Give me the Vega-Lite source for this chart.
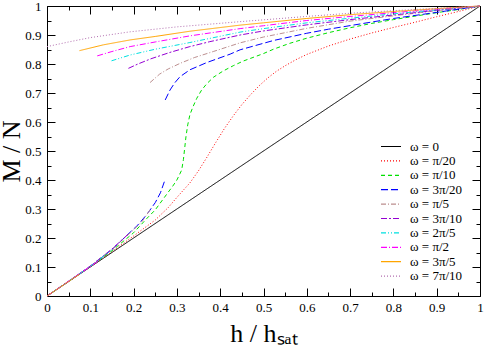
{
"$schema": "https://vega.github.io/schema/vega-lite/v6.json",
"width": 433, "height": 290,
"autosize": {"type": "none"},
"padding": {"left": 47, "top": 6, "right": 5, "bottom": 50},
"background": "white",
"config": {"view": {"stroke": null}, "font": "Liberation Serif",
  "axis": {"grid": false, "domainColor": "black", "tickColor": "black", "labelColor": "black", "titleColor": "black", "labelFont": "Liberation Serif", "titleFont": "Liberation Serif", "labelFontSize": 13, "titleFontSize": 26, "titleFontWeight": "normal", "domainWidth": 1, "tickWidth": 1, "labelOverlap": false, "labelFlush": false, "labelBound": false},
  "legend": {"labelFont": "Liberation Serif"}},
"data": {"values": [
{"w":"ω = 0","s":"a","h":0,"m":0},{"w":"ω = 0","s":"a","h":1,"m":1},
{"w":"ω = π/20","s":"a","h":0,"m":0},{"w":"ω = π/20","s":"a","h":0.05,"m":0.05},{"w":"ω = π/20","s":"a","h":0.1,"m":0.101},{"w":"ω = π/20","s":"a","h":0.15,"m":0.153},{"w":"ω = π/20","s":"a","h":0.2,"m":0.207},{"w":"ω = π/20","s":"a","h":0.25,"m":0.262},{"w":"ω = π/20","s":"a","h":0.28,"m":0.305},{"w":"ω = π/20","s":"a","h":0.3,"m":0.34},{"w":"ω = π/20","s":"a","h":0.33,"m":0.39},{"w":"ω = π/20","s":"a","h":0.35,"m":0.432},{"w":"ω = π/20","s":"a","h":0.37,"m":0.48},{"w":"ω = π/20","s":"a","h":0.39,"m":0.53},{"w":"ω = π/20","s":"a","h":0.41,"m":0.578},{"w":"ω = π/20","s":"a","h":0.43,"m":0.621},{"w":"ω = π/20","s":"a","h":0.45,"m":0.66},{"w":"ω = π/20","s":"a","h":0.47,"m":0.694},{"w":"ω = π/20","s":"a","h":0.49,"m":0.725},{"w":"ω = π/20","s":"a","h":0.51,"m":0.752},{"w":"ω = π/20","s":"a","h":0.53,"m":0.775},{"w":"ω = π/20","s":"a","h":0.55,"m":0.794},{"w":"ω = π/20","s":"a","h":0.575,"m":0.815},{"w":"ω = π/20","s":"a","h":0.6,"m":0.833},{"w":"ω = π/20","s":"a","h":0.65,"m":0.862},{"w":"ω = π/20","s":"a","h":0.7,"m":0.886},{"w":"ω = π/20","s":"a","h":0.75,"m":0.907},{"w":"ω = π/20","s":"a","h":0.8,"m":0.926},{"w":"ω = π/20","s":"a","h":0.85,"m":0.944},{"w":"ω = π/20","s":"a","h":0.9,"m":0.963},{"w":"ω = π/20","s":"a","h":0.95,"m":0.981},{"w":"ω = π/20","s":"a","h":1,"m":1},
{"w":"ω = π/10","s":"a","h":0,"m":0},{"w":"ω = π/10","s":"a","h":0.05,"m":0.05},{"w":"ω = π/10","s":"a","h":0.1,"m":0.102},{"w":"ω = π/10","s":"a","h":0.15,"m":0.156},{"w":"ω = π/10","s":"a","h":0.2,"m":0.218},{"w":"ω = π/10","s":"a","h":0.231,"m":0.268},{"w":"ω = π/10","s":"a","h":0.25,"m":0.297},{"w":"ω = π/10","s":"a","h":0.277,"m":0.352},{"w":"ω = π/10","s":"a","h":0.29,"m":0.378},{"w":"ω = π/10","s":"a","h":0.3,"m":0.4},{"w":"ω = π/10","s":"a","h":0.311,"m":0.434},{"w":"ω = π/10","s":"a","h":0.315,"m":0.47},{"w":"ω = π/10","s":"a","h":0.318,"m":0.51},{"w":"ω = π/10","s":"a","h":0.321,"m":0.55},{"w":"ω = π/10","s":"a","h":0.325,"m":0.59},{"w":"ω = π/10","s":"a","h":0.33,"m":0.625},{"w":"ω = π/10","s":"a","h":0.337,"m":0.652},{"w":"ω = π/10","s":"a","h":0.346,"m":0.682},{"w":"ω = π/10","s":"a","h":0.357,"m":0.71},{"w":"ω = π/10","s":"a","h":0.369,"m":0.732},{"w":"ω = π/10","s":"a","h":0.385,"m":0.755},{"w":"ω = π/10","s":"a","h":0.407,"m":0.776},{"w":"ω = π/10","s":"a","h":0.43,"m":0.794},{"w":"ω = π/10","s":"a","h":0.453,"m":0.81},{"w":"ω = π/10","s":"a","h":0.5,"m":0.836},{"w":"ω = π/10","s":"a","h":0.523,"m":0.851},{"w":"ω = π/10","s":"a","h":0.56,"m":0.871},{"w":"ω = π/10","s":"a","h":0.6,"m":0.889},{"w":"ω = π/10","s":"a","h":0.65,"m":0.908},{"w":"ω = π/10","s":"a","h":0.7,"m":0.925},{"w":"ω = π/10","s":"a","h":0.75,"m":0.94},{"w":"ω = π/10","s":"a","h":0.8,"m":0.953},{"w":"ω = π/10","s":"a","h":0.85,"m":0.965},{"w":"ω = π/10","s":"a","h":0.9,"m":0.977},{"w":"ω = π/10","s":"a","h":0.95,"m":0.988},{"w":"ω = π/10","s":"a","h":1,"m":1},
{"w":"ω = 3π/20","s":"a","h":0,"m":0},{"w":"ω = 3π/20","s":"a","h":0.05,"m":0.05},{"w":"ω = 3π/20","s":"a","h":0.1,"m":0.103},{"w":"ω = 3π/20","s":"a","h":0.15,"m":0.16},{"w":"ω = 3π/20","s":"a","h":0.185,"m":0.21},{"w":"ω = 3π/20","s":"a","h":0.21,"m":0.245},{"w":"ω = 3π/20","s":"a","h":0.231,"m":0.282},{"w":"ω = 3π/20","s":"a","h":0.25,"m":0.322},{"w":"ω = 3π/20","s":"a","h":0.262,"m":0.356},{"w":"ω = 3π/20","s":"a","h":0.271,"m":0.394},
{"w":"ω = 3π/20","s":"b","h":0.273,"m":0.676},{"w":"ω = 3π/20","s":"b","h":0.284,"m":0.71},{"w":"ω = 3π/20","s":"b","h":0.295,"m":0.735},{"w":"ω = 3π/20","s":"b","h":0.307,"m":0.756},{"w":"ω = 3π/20","s":"b","h":0.33,"m":0.78},{"w":"ω = 3π/20","s":"b","h":0.369,"m":0.805},{"w":"ω = 3π/20","s":"b","h":0.423,"m":0.834},{"w":"ω = 3π/20","s":"b","h":0.446,"m":0.849},{"w":"ω = 3π/20","s":"b","h":0.523,"m":0.881},{"w":"ω = 3π/20","s":"b","h":0.6,"m":0.906},{"w":"ω = 3π/20","s":"b","h":0.65,"m":0.92},{"w":"ω = 3π/20","s":"b","h":0.723,"m":0.938},{"w":"ω = 3π/20","s":"b","h":0.8,"m":0.957},{"w":"ω = 3π/20","s":"b","h":0.9,"m":0.978},{"w":"ω = 3π/20","s":"b","h":1,"m":1},
{"w":"ω = π/5","s":"a","h":0,"m":0},{"w":"ω = π/5","s":"a","h":0.1,"m":0.103},{"w":"ω = π/5","s":"a","h":0.15,"m":0.161},{"w":"ω = π/5","s":"a","h":0.2,"m":0.228},{"w":"ω = π/5","s":"a","h":0.22,"m":0.258},{"w":"ω = π/5","s":"a","h":0.238,"m":0.297},
{"w":"ω = π/5","s":"b","h":0.238,"m":0.736},{"w":"ω = π/5","s":"b","h":0.26,"m":0.765},{"w":"ω = π/5","s":"b","h":0.28,"m":0.783},{"w":"ω = π/5","s":"b","h":0.307,"m":0.802},{"w":"ω = π/5","s":"b","h":0.34,"m":0.822},{"w":"ω = π/5","s":"b","h":0.384,"m":0.843},{"w":"ω = π/5","s":"b","h":0.446,"m":0.873},{"w":"ω = π/5","s":"b","h":0.5,"m":0.893},{"w":"ω = π/5","s":"b","h":0.6,"m":0.923},{"w":"ω = π/5","s":"b","h":0.7,"m":0.948},{"w":"ω = π/5","s":"b","h":0.8,"m":0.966},{"w":"ω = π/5","s":"b","h":0.9,"m":0.984},{"w":"ω = π/5","s":"b","h":1,"m":1},
{"w":"ω = 3π/10","s":"a","h":0,"m":0},{"w":"ω = 3π/10","s":"a","h":0.1,"m":0.103},{"w":"ω = 3π/10","s":"a","h":0.15,"m":0.162},{"w":"ω = 3π/10","s":"a","h":0.188,"m":0.214},
{"w":"ω = 3π/10","s":"b","h":0.188,"m":0.785},{"w":"ω = 3π/10","s":"b","h":0.21,"m":0.8},{"w":"ω = 3π/10","s":"b","h":0.24,"m":0.818},{"w":"ω = 3π/10","s":"b","h":0.284,"m":0.84},{"w":"ω = 3π/10","s":"b","h":0.33,"m":0.86},{"w":"ω = 3π/10","s":"b","h":0.376,"m":0.877},{"w":"ω = 3π/10","s":"b","h":0.446,"m":0.9},{"w":"ω = 3π/10","s":"b","h":0.5,"m":0.914},{"w":"ω = 3π/10","s":"b","h":0.6,"m":0.935},{"w":"ω = 3π/10","s":"b","h":0.7,"m":0.953},{"w":"ω = 3π/10","s":"b","h":0.8,"m":0.969},{"w":"ω = 3π/10","s":"b","h":0.9,"m":0.985},{"w":"ω = 3π/10","s":"b","h":1,"m":1},
{"w":"ω = 2π/5","s":"a","h":0,"m":0},{"w":"ω = 2π/5","s":"a","h":0.1,"m":0.102},{"w":"ω = 2π/5","s":"a","h":0.149,"m":0.158},
{"w":"ω = 2π/5","s":"b","h":0.149,"m":0.811},{"w":"ω = 2π/5","s":"b","h":0.192,"m":0.831},{"w":"ω = 2π/5","s":"b","h":0.25,"m":0.851},{"w":"ω = 2π/5","s":"b","h":0.33,"m":0.874},{"w":"ω = 2π/5","s":"b","h":0.446,"m":0.91},{"w":"ω = 2π/5","s":"b","h":0.5,"m":0.922},{"w":"ω = 2π/5","s":"b","h":0.6,"m":0.942},{"w":"ω = 2π/5","s":"b","h":0.7,"m":0.958},{"w":"ω = 2π/5","s":"b","h":0.8,"m":0.973},{"w":"ω = 2π/5","s":"b","h":0.9,"m":0.987},{"w":"ω = 2π/5","s":"b","h":1,"m":1},
{"w":"ω = π/2","s":"a","h":0,"m":0},{"w":"ω = π/2","s":"a","h":0.116,"m":0.118},
{"w":"ω = π/2","s":"b","h":0.116,"m":0.828},{"w":"ω = π/2","s":"b","h":0.15,"m":0.843},{"w":"ω = π/2","s":"b","h":0.192,"m":0.86},{"w":"ω = π/2","s":"b","h":0.25,"m":0.876},{"w":"ω = π/2","s":"b","h":0.33,"m":0.897},{"w":"ω = π/2","s":"b","h":0.446,"m":0.922},{"w":"ω = π/2","s":"b","h":0.5,"m":0.932},{"w":"ω = π/2","s":"b","h":0.6,"m":0.95},{"w":"ω = π/2","s":"b","h":0.7,"m":0.964},{"w":"ω = π/2","s":"b","h":0.8,"m":0.977},{"w":"ω = π/2","s":"b","h":0.9,"m":0.989},{"w":"ω = π/2","s":"b","h":1,"m":1},
{"w":"ω = 3π/5","s":"a","h":0,"m":0},{"w":"ω = 3π/5","s":"a","h":0.075,"m":0.075},
{"w":"ω = 3π/5","s":"b","h":0.075,"m":0.846},{"w":"ω = 3π/5","s":"b","h":0.13,"m":0.866},{"w":"ω = 3π/5","s":"b","h":0.192,"m":0.883},{"w":"ω = 3π/5","s":"b","h":0.25,"m":0.895},{"w":"ω = 3π/5","s":"b","h":0.33,"m":0.913},{"w":"ω = 3π/5","s":"b","h":0.446,"m":0.934},{"w":"ω = 3π/5","s":"b","h":0.5,"m":0.942},{"w":"ω = 3π/5","s":"b","h":0.6,"m":0.957},{"w":"ω = 3π/5","s":"b","h":0.7,"m":0.97},{"w":"ω = 3π/5","s":"b","h":0.8,"m":0.981},{"w":"ω = 3π/5","s":"b","h":0.9,"m":0.991},{"w":"ω = 3π/5","s":"b","h":1,"m":1},
{"w":"ω = 7π/10","s":"b","h":0,"m":0.86},{"w":"ω = 7π/10","s":"b","h":0.05,"m":0.876},{"w":"ω = 7π/10","s":"b","h":0.1,"m":0.891},{"w":"ω = 7π/10","s":"b","h":0.192,"m":0.911},{"w":"ω = 7π/10","s":"b","h":0.3,"m":0.928},{"w":"ω = 7π/10","s":"b","h":0.446,"m":0.946},{"w":"ω = 7π/10","s":"b","h":0.6,"m":0.964},{"w":"ω = 7π/10","s":"b","h":0.7,"m":0.975},{"w":"ω = 7π/10","s":"b","h":0.8,"m":0.984},{"w":"ω = 7π/10","s":"b","h":0.9,"m":0.992},{"w":"ω = 7π/10","s":"b","h":1,"m":1}
]},
"layer": [
{"mark": {"type": "line", "strokeWidth": 1},
 "encoding": {
  "x": {"field": "h", "type": "quantitative", "scale": {"domain": [0, 1], "nice": false},
    "axis": {"orient": "bottom", "values": [0,0.05,0.1,0.15,0.2,0.25,0.3,0.35,0.4,0.45,0.5,0.55,0.6,0.65,0.7,0.75,0.8,0.85,0.9,0.95,1],
      "labelExpr": "round(datum.value*20)%2==0 ? format(datum.value,'~g') : ''",
      "tickSize": {"condition": {"test": "round(datum.value*20)%2==1", "value": -4}, "value": -8},
      "labelFont": "Liberation Serif", "labelPadding": 13, "title": "h / hₛₐₜ", "titlePadding": 2}},
  "y": {"field": "m", "type": "quantitative", "scale": {"domain": [0, 1], "nice": false},
    "axis": {"orient": "left", "values": [0,0.05,0.1,0.15,0.2,0.25,0.3,0.35,0.4,0.45,0.5,0.55,0.6,0.65,0.7,0.75,0.8,0.85,0.9,0.95,1],
      "labelExpr": "round(datum.value*20)%2==0 ? format(datum.value,'~g') : ''",
      "tickSize": {"condition": {"test": "round(datum.value*20)%2==1", "value": -4}, "value": -8},
      "labelFont": "Liberation Serif", "labelPadding": 14, "title": "M / N", "titlePadding": 0}},
  "color": {"field": "w", "type": "nominal",
    "scale": {"domain": ["ω = 0","ω = π/20","ω = π/10","ω = 3π/20","ω = π/5","ω = 3π/10","ω = 2π/5","ω = π/2","ω = 3π/5","ω = 7π/10"],
      "range": ["#000000","#ff0000","#00e000","#0000ff","#bc8f8f","#9400d3","#00e0e0","#ff00ff","#ffa500","#b36fb0"]},
    "legend": {"title": null, "orient": "none", "legendX": 333, "legendY": 134, "padding": 0, "labelFontSize": 13, "labelFont": "Liberation Serif", "labelColor": "black", "symbolType": "stroke", "symbolSize": 400, "symbolStrokeWidth": 1.2, "labelOffset": 8, "clipHeight": 13, "rowPadding": 0.4}},
  "strokeDash": {"field": "w", "type": "nominal",
    "scale": {"domain": ["ω = 0","ω = π/20","ω = π/10","ω = 3π/20","ω = π/5","ω = 3π/10","ω = 2π/5","ω = π/2","ω = 3π/5","ω = 7π/10"],
      "range": [[1,0],[1,2],[4,3],[7,3],[5,2,1,2],[6,2,2,2],[5,2,1,2,1,2],[6,2,1,2],[1,0],[1,2]]},
    "legend": {"title": null, "orient": "none", "legendX": 333, "legendY": 134, "padding": 0, "labelFontSize": 13, "labelFont": "Liberation Serif", "labelColor": "black", "symbolType": "stroke", "symbolSize": 400, "symbolStrokeWidth": 1.2, "labelOffset": 8, "clipHeight": 13, "rowPadding": 0.4}},
  "detail": {"field": "s", "type": "nominal"}
 }},
{"mark": {"type": "point", "opacity": 0},
 "encoding": {
  "x": {"field": "h", "type": "quantitative",
    "axis": {"orient": "top", "values": [0,0.05,0.1,0.15,0.2,0.25,0.3,0.35,0.4,0.45,0.5,0.55,0.6,0.65,0.7,0.75,0.8,0.85,0.9,0.95,1], "labels": false, "title": null,
      "tickSize": {"condition": {"test": "round(datum.value*20)%2==1", "value": -4}, "value": -8}}},
  "y": {"field": "m", "type": "quantitative",
    "axis": {"orient": "right", "values": [0,0.05,0.1,0.15,0.2,0.25,0.3,0.35,0.4,0.45,0.5,0.55,0.6,0.65,0.7,0.75,0.8,0.85,0.9,0.95,1], "labels": false, "title": null,
      "tickSize": {"condition": {"test": "round(datum.value*20)%2==1", "value": -4}, "value": -8}}}
 }}
],
"resolve": {"axis": {"x": "independent", "y": "independent"}}
}
